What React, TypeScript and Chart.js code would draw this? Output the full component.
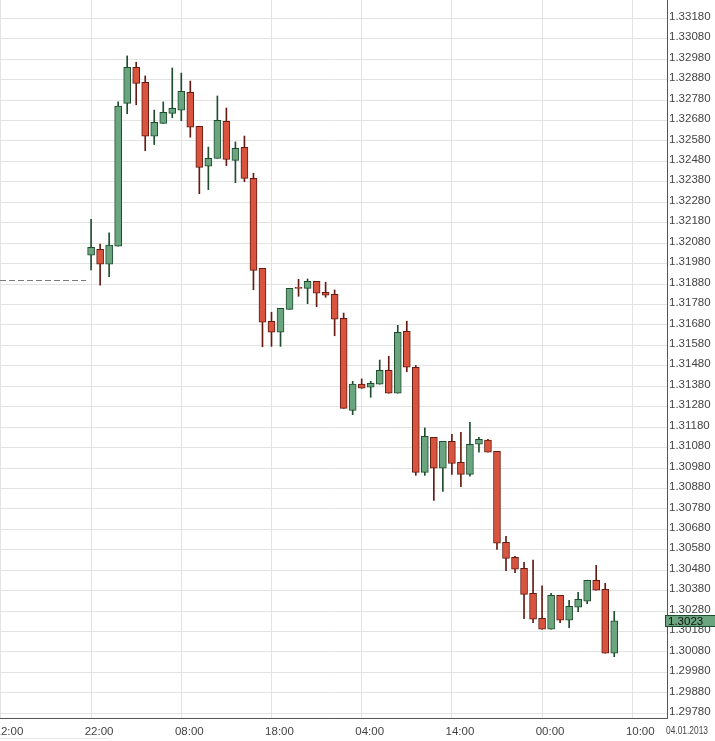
import { useEffect, useRef } from 'react'
import { Chart, registerables, type ChartConfiguration, type Plugin } from 'chart.js'

Chart.register(...registerables)

// hourly candles, hour 0 = 22:00
const opens = [
  1.32021, 1.3205, 1.31977, 1.32065, 1.32764, 1.3294, 1.32867, 1.32603, 1.32666, 1.32715,
  1.3273, 1.32818, 1.32652, 1.32456, 1.32495, 1.32676, 1.32485, 1.32549, 1.32397, 1.31957,
  1.31698, 1.31644, 1.31756, 1.31864, 1.31859, 1.31893, 1.3184, 1.3183, 1.31712, 1.31262,
  1.3139, 1.31375, 1.3139, 1.31458, 1.31346, 1.31649, 1.31473, 1.30959, 1.3113, 1.30979,
  1.31111, 1.31008, 1.30949, 1.31096, 1.31116, 1.31062, 1.30617, 1.30543, 1.30489, 1.30367,
  1.30245, 1.30191, 1.30357, 1.30235, 1.30299, 1.30328, 1.30431, 1.30387, 1.30074,
]
const highs = [
  1.32197, 1.32076, 1.3213, 1.32771, 1.32996, 1.32965, 1.32898, 1.32731, 1.32771, 1.32937,
  1.32912, 1.32873, 1.32652, 1.3255, 1.328, 1.32741, 1.32575, 1.32604, 1.32422, 1.31957,
  1.31742, 1.31761, 1.31859, 1.31903, 1.31905, 1.31893, 1.31889, 1.31851, 1.31738, 1.31404,
  1.31416, 1.31404, 1.31508, 1.31527, 1.31678, 1.31698, 1.31482, 1.31176, 1.3113, 1.31111,
  1.31145, 1.31155, 1.31204, 1.3113, 1.3112, 1.31062, 1.30646, 1.30548, 1.30519, 1.3053,
  1.30403, 1.30367, 1.30357, 1.30333, 1.30372, 1.30431, 1.30504, 1.30416, 1.30279,
]
const lows = [
  1.31949, 1.31874, 1.31916, 1.32065, 1.32713, 1.32757, 1.32532, 1.32562, 1.32666, 1.32694,
  1.32679, 1.32598, 1.32322, 1.32342, 1.32495, 1.32459, 1.32376, 1.32381, 1.31852, 1.31573,
  1.31575, 1.31575, 1.31756, 1.3182, 1.31784, 1.31769, 1.31815, 1.31627, 1.31272, 1.31241,
  1.3137, 1.31326, 1.3139, 1.31346, 1.31346, 1.31451, 1.30944, 1.30944, 1.30822, 1.30866,
  1.30949, 1.30889, 1.3094, 1.31057, 1.31057, 1.30582, 1.30478, 1.30468, 1.30243, 1.30223,
  1.30191, 1.30191, 1.30223, 1.30199, 1.30277, 1.30316, 1.30382, 1.30074, 1.30057,
]
const closes = [
  1.3206, 1.31977, 1.3207, 1.3275, 1.3294, 1.32862, 1.32603, 1.32671, 1.3272, 1.3274,
  1.32823, 1.32647, 1.32451, 1.32495, 1.32681, 1.3249, 1.32544, 1.32397, 1.31947, 1.31693,
  1.31644, 1.31761, 1.31859, 1.31859, 1.31893, 1.31835, 1.31825, 1.31708, 1.31272, 1.3139,
  1.3137, 1.31394, 1.31458, 1.31346, 1.31644, 1.31473, 1.30959, 1.31135, 1.30979, 1.31111,
  1.31003, 1.30949, 1.31096, 1.3112, 1.31057, 1.30612, 1.30538, 1.30485, 1.30362, 1.3024,
  1.30191, 1.30357, 1.30235, 1.30303, 1.30338, 1.30431, 1.30382, 1.30074, 1.30232,
]

const xTickHours = [-10, 0, 10, 20, 30, 40, 50, 60]
const xTickLabels = ['12:00', '22:00', '08:00', '18:00', '04:00', '14:00', '00:00', '10:00']
const yTickLabels = [
  '1.29780', '1.29880', '1.29980', '1.30080', '1.30180', '1.30280', '1.30380', '1.30480',
  '1.30580', '1.30680', '1.30780', '1.30880', '1.30980', '1.31080', '1.31180', '1.31280',
  '1.31380', '1.31480', '1.31580', '1.31680', '1.31780', '1.31880', '1.31980', '1.32080',
  '1.32180', '1.32280', '1.32380', '1.32480', '1.32580', '1.32680', '1.32780', '1.32880',
  '1.32980', '1.33080', '1.33180',
]

const prevClose = 1.319
const prevCloseSpan = [-10.1, -0.55]
const lastPrice = 1.3023
const lastPriceLabel = '1.3023'
const dateLabel = '04.01.2013'

const UP_FILL = '#6aa57f'
const UP_LINE = '#1e4d2e'
const DOWN_FILL = '#d8543f'
const DOWN_LINE = '#661b12'
const FONT = '"Liberation Sans", Arial, sans-serif'
const FONT_SIZE = 11.5

const isUp = (i: number) => closes[i] >= opens[i]

const overlayPlugin: Plugin<'bar'> = {
  id: 'overlay',
  beforeDatasetsDraw(chart) {
    const { ctx } = chart
    const x = chart.scales.x
    const y = chart.scales.y
    const py = Math.round(y.getPixelForValue(prevClose)) + 0.5
    ctx.save()
    ctx.strokeStyle = '#7a7a7a'
    ctx.lineWidth = 1
    ctx.setLineDash([6, 3])
    ctx.beginPath()
    ctx.moveTo(x.getPixelForValue(prevCloseSpan[0]), py)
    ctx.lineTo(x.getPixelForValue(prevCloseSpan[1]), py)
    ctx.stroke()
    ctx.restore()
  },
  afterDraw(chart) {
    const { ctx, chartArea } = chart
    const y = chart.scales.y
    const py = Math.round(y.getPixelForValue(lastPrice))
    ctx.save()
    ctx.fillStyle = UP_FILL
    ctx.strokeStyle = UP_LINE
    ctx.lineWidth = 1
    ctx.fillRect(chartArea.right - 2, py - 6, 60, 12)
    ctx.strokeRect(chartArea.right - 1.5, py - 5.5, 60, 11)
    ctx.fillStyle = '#111'
    ctx.font = `${FONT_SIZE}px ${FONT}`
    ctx.textBaseline = 'middle'
    ctx.textAlign = 'left'
    ctx.fillText(lastPriceLabel, chartArea.right + 1, py + 0.5)

    ctx.fillStyle = '#444'
    ctx.fillText(dateLabel, chartArea.right - 1, chartArea.bottom + 13, 42)

    // navigator strip
    ctx.strokeStyle = '#e6e6e6'
    ctx.beginPath()
    ctx.moveTo(0, chart.height - 2.5)
    ctx.lineTo(108, chart.height - 2.5)
    ctx.stroke()
    ctx.restore()
  },
}

export default function App() {
  const canvasRef = useRef<HTMLCanvasElement>(null)
  const chartRef = useRef<Chart | null>(null)

  useEffect(() => {
    const canvas = canvasRef.current
    if (!canvas) return
    document.body.style.margin = '0'
    chartRef.current?.destroy()

    const wicks = highs.map((h, i) => ({ x: i, y: [lows[i], h] }))
    const bodies = opens.map((o, i) => ({ x: i, y: [o, closes[i]] }))

    const config: ChartConfiguration<'bar'> = {
      type: 'bar',
      data: {
        datasets: [
          {
            label: 'body',
            data: bodies as any,
            order: 0,
            grouped: false,
            barThickness: 7,
            backgroundColor: (c) => (isUp(c.dataIndex) ? UP_FILL : DOWN_FILL),
            borderColor: (c) => (isUp(c.dataIndex) ? UP_LINE : DOWN_LINE),
            borderWidth: 1,
            borderSkipped: false,
          },
          {
            label: 'wick',
            data: wicks as any,
            order: 1,
            grouped: false,
            barThickness: 1,
            backgroundColor: (c) => (isUp(c.dataIndex) ? UP_LINE : DOWN_LINE),
            borderWidth: 0,
          },
        ],
      },
      options: {
        responsive: true,
        maintainAspectRatio: false,
        animation: false,
        events: [],
        layout: { padding: 0, autoPadding: false },
        plugins: {
          legend: { display: false },
          tooltip: { enabled: false },
        },
        scales: {
          x: {
            type: 'linear',
            position: 'bottom',
            offset: false,
            min: -10.1,
            max: 63.85,
            afterBuildTicks: (scale) => {
              scale.ticks = xTickHours.map((v) => ({ value: v }))
            },
            afterFit: (scale) => {
              scale.height = 23
              scale.paddingLeft = 0
              scale.paddingRight = 0
            },
            ticks: {
              autoSkip: false,
              maxRotation: 0,
              padding: 7,
              labelOffset: 8,
              color: '#444',
              font: { family: FONT, size: FONT_SIZE },
              callback: (_v, i) => xTickLabels[i],
            },
            grid: { offset: false, color: '#e3e3e3', lineWidth: 1, drawTicks: false },
            border: { display: true, color: '#555', width: 1 },
          },
          y: {
            type: 'linear',
            position: 'right',
            min: 1.29757,
            max: 1.332695,
            afterBuildTicks: (scale) => {
              scale.ticks = yTickLabels.map((l) => ({ value: Number(l) }))
            },
            afterFit: (scale) => {
              scale.width = 48
              scale.paddingTop = 0
              scale.paddingBottom = 0
            },
            ticks: {
              autoSkip: false,
              padding: 2,
              labelOffset: -1.5,
              color: '#444',
              font: { family: FONT, size: FONT_SIZE },
              callback: (_v, i) => yTickLabels[i],
            },
            grid: { color: '#e3e3e3', lineWidth: 1, drawTicks: false },
            border: { display: true, color: '#555', width: 1 },
          },
        },
      },
      plugins: [overlayPlugin],
    }

    chartRef.current = new Chart(canvas, config)

    return () => {
      chartRef.current?.destroy()
      chartRef.current = null
    }
  }, [])

  return (
    <div style={{ position: 'relative', width: 715, height: 741 }}>
      <canvas ref={canvasRef} role="img" aria-label="Hourly candlestick chart" />
    </div>
  )
}
